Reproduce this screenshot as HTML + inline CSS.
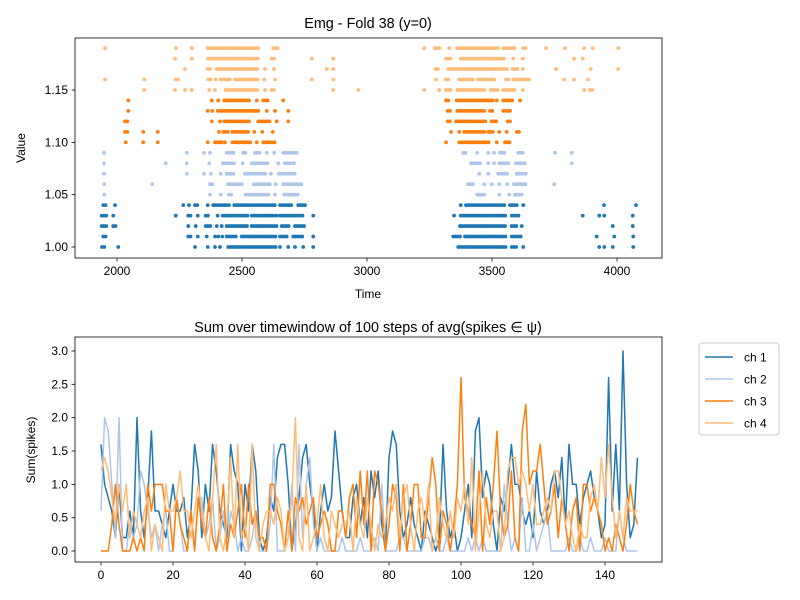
<!DOCTYPE html>
<html><head><meta charset="utf-8"><style>
body{margin:0;background:#fff;}
svg{display:block;font-family:"Liberation Sans","DejaVu Sans",sans-serif;}
</style></head><body>
<svg id="fig" width="800" height="600" viewBox="0 0 800 600"></svg>
<script>
// ---- Top raster data: spike runs [start,end] per value row ----
const rowValues=[1.00,1.01,1.02,1.03,1.04,1.05,1.06,1.07,1.08,1.09,1.10,1.11,1.12,1.13,1.14,1.15,1.16,1.17,1.18,1.19];
const ch1Runs=[
[[1940,1950],[2005,2005],[2312,2312],[2363,2363],[2392,2392],[2412,2412],[2445,2639],[2652,2652],[2685,2685],[2712,2712],[2745,2745],[2785,2785],[3365,3556],[3579,3599],[3625,3625],[3929,3929],[3949,3949],[3983,3983],[4065,4065]],
[[1945,1955],[2285,2299],[2323,2323],[2359,2359],[2392,2392],[2405,2405],[2421,2421],[2439,2479],[2499,2639],[2652,2685],[2705,2749],[2785,2785],[3345,3379],[3392,3559],[3579,3623],[3919,3919],[3989,3989],[4065,4065]],
[[1939,1965],[1985,1995],[2285,2285],[2315,2315],[2355,2379],[2399,2399],[2419,2419],[2439,2525],[2539,2645],[2659,2692],[2712,2749],[3372,3559],[3579,3599],[3619,3619],[3983,3983],[4063,4063]],
[[1939,1961],[1985,1985],[2235,2235],[2285,2299],[2323,2323],[2355,2372],[2403,2403],[2423,2525],[2539,2639],[2652,2745],[2785,2785],[3348,3348],[3375,3465],[3472,3559],[3579,3612],[3863,3863],[3929,3929],[3949,3949],[4063,4063]],
[[1945,1955],[1992,1992],[2265,2265],[2288,2288],[2312,2325],[2363,2363],[2385,2448],[2469,2525],[2532,2639],[2652,2699],[2725,2752],[3375,3375],[3396,3556],[3572,3599],[3625,3625],[3948,3948],[4076,4076]]
];
const ch2Runs=[
[[1949,1949],[2372,2372],[2415,2415],[2448,2465],[2515,2605],[2632,2632],[2669,2723],[3441,3472],[3529,3529],[3569,3569],[3592,3625]],
[[1949,1949],[2141,2141],[2372,2385],[2445,2499],[2548,2612],[2635,2635],[2665,2739],[3405,3425],[3469,3469],[3499,3499],[3529,3529],[3561,3561],[3588,3639],[3749,3749]],
[[1948,1948],[2279,2279],[2348,2348],[2375,2375],[2415,2415],[2439,2469],[2512,2599],[2616,2616],[2648,2719],[3449,3449],[3485,3485],[3525,3569],[3599,3636]],
[[1948,1948],[2195,2195],[2279,2279],[2369,2369],[2423,2469],[2503,2503],[2539,2605],[2645,2645],[2672,2709],[3416,3452],[3485,3485],[3508,3508],[3529,3569],[3596,3636],[3819,3819]],
[[1948,1948],[2279,2279],[2348,2348],[2372,2372],[2439,2469],[2505,2515],[2552,2576],[2599,2599],[2629,2629],[2665,2719],[3385,3401],[3441,3441],[3485,3485],[3508,3508],[3532,3552],[3605,3623],[3752,3752],[3819,3819]]
];
const ch3Runs=[
[[2035,2035],[2105,2105],[2163,2163],[2363,2363],[2392,2419],[2432,2439],[2461,2539],[2559,2559],[2585,2632],[3316,3316],[3369,3492],[3519,3525],[3552,3572]],
[[2032,2043],[2105,2105],[2163,2163],[2408,2408],[2425,2445],[2461,2525],[2549,2549],[2581,2589],[2623,2623],[3336,3336],[3369,3369],[3389,3472],[3485,3503],[3529,3529],[3559,3559],[3599,3612]],
[[2032,2045],[2379,2379],[2412,2412],[2429,2532],[2565,2612],[2639,2639],[2685,2685],[3323,3336],[3356,3476],[3499,3519],[3563,3572]],
[[2045,2045],[2363,2363],[2381,2381],[2403,2572],[2599,2605],[2632,2632],[2685,2685],[3323,3339],[3361,3472],[3492,3503],[3545,3572]],
[[2045,2045],[2379,2379],[2405,2405],[2429,2532],[2559,2559],[2585,2605],[2665,2665],[3316,3325],[3359,3508],[3519,3519],[3545,3585],[3612,3612]]
];
const ch4Runs=[
[[2109,2109],[2232,2239],[2272,2272],[2299,2299],[2369,2369],[2392,2392],[2435,2568],[2592,2592],[2619,2629],[2865,2865],[2965,2965],[3229,3229],[3289,3289],[3316,3339],[3361,3472],[3495,3529],[3545,3592],[3623,3623],[3869,3869],[3892,3903]],
[[1952,1952],[2109,2109],[2235,2252],[2365,2379],[2395,2399],[2415,2459],[2472,2565],[2589,2589],[2632,2632],[2779,2779],[2865,2865],[3275,3275],[3316,3332],[3369,3425],[3445,3516],[3556,3572],[3585,3649],[3789,3789],[3828,3828],[3885,3892]],
[[2272,2272],[2363,2379],[2399,2563],[2592,2592],[2628,2628],[2839,2839],[2865,2865],[3275,3289],[3325,3559],[3583,3605],[3623,3623],[3756,3756],[3895,3895],[4005,4005]],
[[2232,2239],[2299,2299],[2365,2563],[2619,2632],[2779,2779],[2865,2865],[3316,3339],[3375,3532],[3539,3556],[3585,3585],[3623,3623],[3828,3828],[3863,3863]],
[[1952,1952],[2236,2236],[2299,2299],[2363,2459],[2465,2568],[2625,2648],[3229,3229],[3272,3292],[3329,3329],[3361,3525],[3545,3592],[3625,3636],[3716,3716],[3792,3792],[3869,3869],[3903,3903],[4005,4005]]
];
const topXTicks=[2000,2500,3000,3500,4000];
const topYTicks=[1.00,1.05,1.10,1.15];
// ---- Bottom line chart data ----
const ch1=[1.6,1.0,0.8,0.6,0.2,1.0,0.2,0.2,0.6,0.2, 2.0,0.6,0.2,0.8,1.8,0.6,0.6,0.4,0.2,0.6, 1.0,0.6,0.6,0.8,0.2,0.6,1.6,1.2,0.2,1.0, 0.6,1.6,1.2,0.6,0.4,0.2,1.6,1.2,1.0,0.0, 1.0,0.6,1.6,1.2,0.2,0.0,0.2,0.8,0.6,1.4, 1.6,1.6,1.0,0.0,0.4,0.8,1.4,1.6,1.0,0.6, 0.0,0.6,1.0,0.6,0.8,1.8,1.2,0.6,0.2,0.2, 0.8,1.0,0.4,0.8,0.2,1.2,0.8,1.2,0.4,0.0, 1.4,1.8,1.6,0.6,0.2,0.4,0.8,0.4,0.2,0.0, 0.6,0.4,0.2,0.0,0.2,1.6,0.6,0.2,0.4,0.0, 0.2,0.6,1.0,0.2,1.8,2.0,0.8,1.2,1.0,0.4, 0.0,0.8,0.6,1.0,1.6,1.0,1.0,0.6,0.4,0.6, 0.2,1.2,0.6,0.4,0.6,1.0,1.2,0.8,1.4,0.4, 1.6,1.0,1.0,0.4,0.8,1.0,1.2,0.8,0.6,0.2, 0.4,2.6,0.6,1.6,0.6,3.0,1.0,0.2,0.4,1.4];
const ch2=[0.6,2.0,1.8,1.0,0.2,2.0,0.0,0.0,0.4,0.2, 0.4,1.2,1.0,0.6,0.2,0.4,0.0,0.4,0.6,0.0, 0.0,0.8,0.4,0.0,0.0,0.6,0.0,0.8,0.8,0.2, 0.4,0.8,0.0,0.2,0.6,0.0,0.6,0.4,0.0,0.2, 0.0,0.0,0.2,0.6,0.0,0.0,0.0,0.4,1.6,0.0, 0.0,0.0,0.2,1.0,0.0,1.6,0.2,1.0,1.4,0.4, 0.0,0.2,0.0,0.0,0.0,0.0,0.0,0.2,0.0,0.0, 0.0,0.0,0.2,0.0,0.0,0.0,0.2,0.0,1.0,0.0, 0.0,0.0,0.0,0.2,0.2,0.0,0.0,0.0,0.0,0.0, 0.2,0.2,0.0,0.2,0.0,0.0,0.2,0.0,0.0,0.0, 0.0,0.0,0.2,0.0,0.2,0.0,0.2,0.0,0.0,0.0, 0.0,0.0,1.0,0.4,0.0,0.2,0.0,0.8,0.0,0.0, 0.4,0.0,0.2,0.4,0.6,0.0,0.0,0.0,0.0,0.0, 0.2,0.0,0.0,0.2,0.0,0.0,0.2,0.0,0.0,0.0, 0.2,0.0,0.0,0.0,0.6,0.2,0.0,0.0,0.0,0.0];
const ch3=[0,0,0,0.4,1.0,0.4,0.0,0.0,0.0,0.2, 0.0,0.2,0.0,1.0,0.6,1.0,1.0,1.0,0.6,0.6, 0.0,0.8,0.4,0.2,0.0,0.6,0.0,0.8,0.4,0.2, 0.8,0.2,0.0,0.4,1.0,0.0,0.4,0.2,0.6,1.0, 0.2,1.0,0.4,0.6,0.2,0.2,0.0,1.0,1.0,0.6, 0.4,0.0,0.6,0.0,0.8,0.6,0.8,0.4,0.6,0.8, 0.2,0.4,0.6,0.4,0.0,0.0,0.6,0.6,0.2,0.8, 1.0,0.2,1.2,0.4,1.2,0.0,1.2,1.0,0.6,0.0, 0.4,1.0,0.8,0.0,1.0,0.0,0.4,1.0,1.0,0.2, 0.2,0.8,1.4,1.0,0.0,0.6,0.4,0.0,0.4,1.0, 2.6,0.8,0.6,0.4,0.2,1.2,0.0,0.8,0.4,1.0, 1.8,0.6,0.2,0.4,1.2,0.2,0.0,1.8,2.2,1.0, 1.2,1.2,1.6,1.0,0.4,0.6,1.0,0.2,0.8,0.4, 0.0,0.6,0.8,0.0,1.0,1.0,0.6,0.8,0.6,0.4, 0.0,0.2,0.0,0.4,0.2,0.0,0.4,1.0,0.6,0.4];
const ch4=[1.2,1.4,1.2,0.8,0.4,1.0,0.6,1.0,0.2,0.6, 0.4,0.2,0.6,0.8,0.0,0.4,0.2,0.0,1.0,0.6, 0.6,0.8,1.2,0.6,0.6,0.2,0.6,1.0,0.6,0.2, 0.0,0.8,1.6,0.2,0.0,0.4,1.4,0.2,1.6,0.2, 0.4,0.0,1.6,0.2,0.0,0.4,0.6,0.6,0.4,0.8, 0.6,0.0,0.2,0.8,2.0,0.2,0.0,1.0,0.0,0.2, 0.4,1.0,0.2,0.0,0.6,0.4,0.2,0.4,0.4,0.6, 0.0,0.8,0.4,0.2,0.8,0.4,0.0,0.4,0.2,0.4, 0.8,0.6,1.0,0.2,0.8,1.0,0.4,0.0,0.6,0.8, 0.4,1.0,0.0,0.2,0.8,0.4,0.2,0.6,0.2,0.8, 0.6,1.0,0.4,1.4,0.0,0.6,1.2,0.4,0.2,0.6, 0.6,0.0,0.2,1.2,1.4,1.4,1.0,1.2,1.0,0.6, 1.0,0.4,0.4,0.6,0.8,0.6,1.2,1.2,0.8,0.4, 0.6,0.2,0.0,0.4,0.2,0.2,0.8,1.0,0.6,1.4, 0.8,1.6,0.8,0.2,0.6,0.2,0.8,0.6,0.6,0.6];
const botXTicks=[0,20,40,60,80,100,120,140];
const botYTicks=[0.0,0.5,1.0,1.5,2.0,2.5,3.0];
const seriesNames=["ch 1","ch 2","ch 3","ch 4"];

const NS="http://www.w3.org/2000/svg";
const svg=document.getElementById('fig');
const colors=["#1f77b4","#aec7e8","#ff7f0e","#ffbb78"];
function mk(tag,attrs,parent){const e=document.createElementNS(NS,tag);for(const k in attrs)e.setAttribute(k,attrs[k]);(parent||svg).appendChild(e);return e;}
function txt(s,x,y,anchor,size,parent){const t=mk('text',{x:x,y:y,'text-anchor':anchor,'font-size':size,fill:'#000'},parent);t.textContent=s;return t;}

// Top axes
const T={l:75,r:662,t:38,b:258};
const tx=v=>117+(v-2000)*0.25;
const ty=v=>247-(v-1.0)*1046.7;
const topG=mk('g',{});


const allRuns=[ch1Runs,ch2Runs,ch3Runs,ch4Runs];
allRuns.forEach((chRuns,ci)=>{
  const g=mk('g',{fill:colors[ci]},topG);
  
  
  chRuns.forEach((runs,ri)=>{
    const y=ty(rowValues[ci*5+ri]);
    runs.forEach(([a,b])=>{
      for(let t=a;t<=b+0.1;t+=9){
        const c=mk('circle',{cx:tx(Math.min(t,b)).toFixed(2),cy:y.toFixed(2),r:1.9},g);
        
        
      }
    });
  });
});
const topFrame=mk('rect',{x:T.l,y:T.t,width:T.r-T.l,height:T.b-T.t,fill:'none',stroke:'#000','stroke-width':0.8});


topXTicks.forEach(v=>{const x=tx(v);mk('line',{x1:x,x2:x,y1:T.b,y2:T.b+3.5,stroke:'#000','stroke-width':0.8});
  const t=txt(String(v),x,T.b+17,'middle',12);
  
  });
topYTicks.forEach(v=>{const y=ty(v);mk('line',{x1:T.l-3.5,x2:T.l,y1:y,y2:y,stroke:'#000','stroke-width':0.8});
  const t=txt(v.toFixed(2),T.l-7,y+4,'end',12);
  
  });
let e=txt('Emg - Fold 38 (y=0)',368,28,'middle',14.4);


e=txt('Time',368,298,'middle',12);


e=txt('Value',0,0,'middle',12);e.setAttribute('transform','translate(25,148) rotate(-90)');



// Bottom axes
const B={l:75,r:662,t:337,b:562};
const bx=i=>101+i*3.6;
const by=v=>551-v*66.67;
const lines=[ch1,ch2,ch3,ch4];
lines.forEach((arr,ci)=>{
  const d=arr.map((v,i)=>(i?'L':'M')+bx(i).toFixed(2)+','+by(v).toFixed(2)).join('');
  const p=mk('path',{d:d,fill:'none',stroke:colors[ci],'stroke-width':1.5,'stroke-linejoin':'round'});
  
  
});
const botFrame=mk('rect',{x:B.l,y:B.t,width:B.r-B.l,height:B.b-B.t,fill:'none',stroke:'#000','stroke-width':0.8});


botXTicks.forEach(v=>{const x=bx(v);mk('line',{x1:x,x2:x,y1:B.b,y2:B.b+3.5,stroke:'#000','stroke-width':0.8});
  const t=txt(String(v),x,B.b+17,'middle',12);
  
  });
botYTicks.forEach(v=>{const y=by(v);mk('line',{x1:B.l-3.5,x2:B.l,y1:y,y2:y,stroke:'#000','stroke-width':0.8});
  const t=txt(v.toFixed(1),B.l-7,y+4,'end',12);
  
  });
e=txt('Sum over timewindow of 100 steps of avg(spikes \u2208 \u03C8)',368,332,'middle',14.4);


e=txt('Sum(spikes)',0,0,'middle',12);e.setAttribute('transform','translate(35,450) rotate(-90)');



// Legend
const lg=mk('g',{});


mk('rect',{x:699,y:343,width:80,height:92,rx:3,fill:'#fff',stroke:'#ccc','stroke-width':1},lg);
seriesNames.forEach((n,i)=>{
  const y=357+i*22;
  const ent=mk('g',{},lg);
  
  
  mk('line',{x1:705,x2:733,y1:y,y2:y,stroke:colors[i],'stroke-width':1.5},ent);
  txt(n,744,y+4.5,'start',12,ent);
});
</script>
</body></html>
